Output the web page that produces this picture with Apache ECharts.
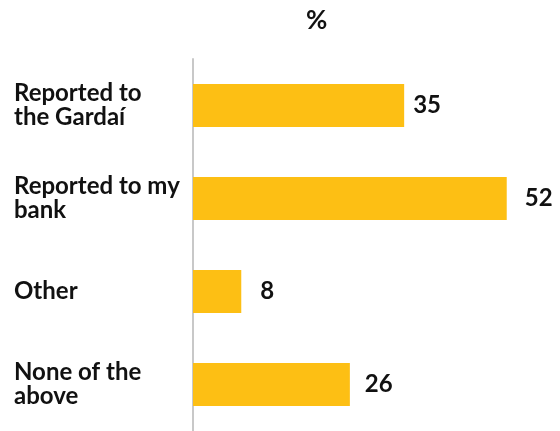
<!DOCTYPE html>
<html>
<head>
<meta charset="utf-8">
<script src="https://cdn.jsdelivr.net/npm/echarts@6/dist/echarts.min.js"></script>
<style>
  html, body { margin: 0; padding: 0; background: #fff; }
  #chart { width: 560px; height: 431px; }
</style>
</head>
<body>
<div id="chart"></div>
<script>
// Actions taken (%)
const categories = ['Reported to\nthe Gardaí', 'Reported to my\nbank', 'Other', 'None of the\nabove'];
const values = [35, 52, 8, 26];

// gap between each bar end and its value label, in px
const labelGaps = [9, 18, 19, 15];

const chart = echarts.init(document.getElementById('chart'));
chart.setOption({
  backgroundColor: '#ffffff',
  animation: false,
  title: {
    text: '%',
    left: 306,
    top: 8,
    padding: 0,
    textStyle: { fontFamily: 'Lato', fontWeight: 'bold', fontSize: 26, color: '#111' }
  },
  grid: { left: 193, right: 5, top: 59, bottom: -2, containLabel: false },
  xAxis: {
    type: 'value',
    min: 0,
    max: 60,
    show: false
  },
  yAxis: {
    type: 'category',
    data: categories,
    inverse: true,
    axisLine: { show: true, lineStyle: { color: '#c8c8c8', width: 2 } },
    axisTick: { show: false },
    axisLabel: {
      align: 'left',
      margin: 179,
      fontFamily: 'Lato',
      fontWeight: 'bold',
      fontSize: 24,
      lineHeight: 24,
      color: '#111'
    }
  },
  series: [{
    type: 'bar',
    data: values.map((v, i) => ({ value: v, label: { distance: labelGaps[i] } })),
    barWidth: '46%',
    itemStyle: { color: '#FDBF14' },
    label: {
      show: true,
      position: 'right',
      fontFamily: 'Lato',
      fontWeight: 'bold',
      fontSize: 24,
      color: '#111'
    }
  }]
});
</script>
</body>
</html>
